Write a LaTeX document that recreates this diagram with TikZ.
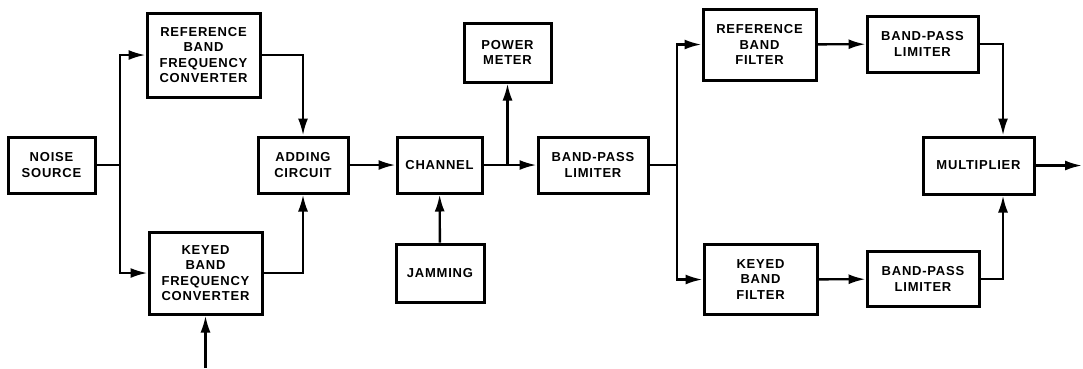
\documentclass[tikz,border=0pt]{standalone}
\usepackage{fontspec}
\setmainfont{Liberation Sans}[LetterSpace=6]
\usetikzlibrary{arrows.meta,positioning}
\tikzset{>={Latex[length=17pt,width=10pt]}}
\newcommand\blk{\bfseries\fontsize{13}{15.5}\selectfont}

\begin{document}
\begin{tikzpicture}[x=1pt,y=-1pt,line width=2.4pt]%
        \useasboundingbox (0,0) rectangle (1083,368);%%
        \begin{scope}
        \tikzstyle{every node}=[draw,rectangle,line width=3pt,inner sep=0pt,align=center,font=\blk] %%
        \node[minimum width=87,minimum height=56] (ns) at (51.5,165)  {NOISE\\SOURCE}; %%
        \node[minimum width=113,minimum height=84] (rc) at (203.5,55)  {REFERENCE\\BAND\\FREQUENCY\\CONVERTER}; %%
        \node[minimum width=113,minimum height=82] (kc) at (205.5,273)  {KEYED\\BAND\\FREQUENCY\\CONVERTER}; %%
        \node[minimum width=90,minimum height=56] (ad) at (303,165)  {ADDING\\CIRCUIT}; %%
        \node[minimum width=85,minimum height=56] (ch) at (439.5,165)  {CHANNEL}; %%
        \node[minimum width=87,minimum height=59] (pm) at (507.5,52.5)  {POWER\\METER}; %%
        \node[minimum width=88,minimum height=58] (jm) at (440,273)  {JAMMING}; %%
        \node[minimum width=110,minimum height=56] (bl) at (593,165)  {BAND-PASS\\LIMITER}; %%
        \node[minimum width=113,minimum height=71] (rf) at (759.5,44.5)  {REFERENCE\\BAND\\FILTER}; %%
        \node[minimum width=113,minimum height=70] (kf) at (760.5,279.5)  {KEYED\\BAND\\FILTER}; %%
        \node[minimum width=111,minimum height=56] (bl1) at (922.5,44)  {BAND-PASS\\LIMITER}; %%
        \node[minimum width=112,minimum height=55] (bl2) at (923,279)  {BAND-PASS\\LIMITER}; %%
        \node[minimum width=111,minimum height=57] (mu) at (978.5,165.5)  {MULTIPLIER}; %%
        \end{scope}
        \coordinate (j1) at (120,165); %%
        \coordinate (j2) at (507.5,165); %%
        \coordinate (j3) at (677,165); %%
        \coordinate (kin) at (205.5,368); %%
        \coordinate (out) at (1082,165.5); %%
\draw (ns)--(j1); %%
\draw[->] (j1)|-(rc); %%
\draw[->] (j1)|-(kc); %%
\draw[->] (kin)--(kc); %%
\draw[->] (rc)-|(ad); %%
\draw[->] (kc)-|(ad); %%
\draw[->] (ad)--(ch); %%
\draw[->] (jm)--(ch); %%
\draw[->] (ch)--(bl); %%
\draw[->] (j2)--(pm); %%
\draw (bl)--(j3); %%
\draw[->] (j3)|-(rf); %%
\draw[->] (j3)|-(kf); %%
\draw[->] (rf)--(bl1); %%
\draw[->] (kf)--(bl2); %%
\draw[->] (bl1)-|([xshift=24.5]mu.north); %%
\draw[->] (bl2)-|([xshift=24.5]mu.south); %%
\draw[->] (mu)--(out); %%
\end{tikzpicture}
\end{document}
